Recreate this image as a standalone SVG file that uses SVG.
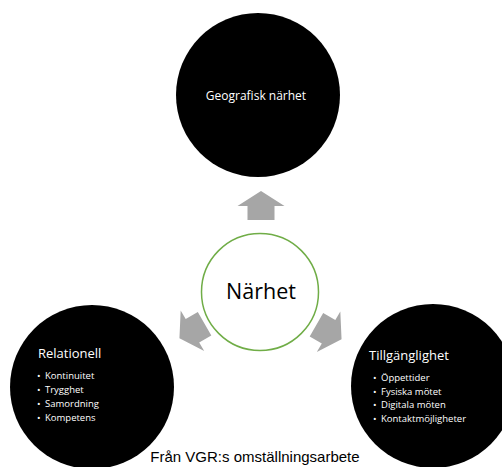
<svg xmlns="http://www.w3.org/2000/svg" width="502" height="467" viewBox="0 0 502 467">
<style>
.blk{fill:#000}
.arr{fill:#a6a6a6}
.t{font-family:"Open Sans","Noto Sans",sans-serif;fill:#fff}
.h{font-size:13px}
.b{font-size:9.5px}
</style>
<defs>
<path id="arrow" d="M0,-14.5 L23.5,0.5 L13.5,0.5 L13.5,14.5 L-13.5,14.5 L-13.5,0.5 L-23.5,0.5 Z"/>
</defs>
<rect width="502" height="467" fill="#fff"/>
<g id="connectors">
<use href="#arrow" class="arr" transform="translate(261,205.5)"/>
<use href="#arrow" class="arr" transform="translate(192,331) rotate(-120)"/>
<use href="#arrow" class="arr" transform="translate(329,332) rotate(120)"/>
</g>
<g id="geografisk">
<circle class="blk" cx="258" cy="95" r="82"/>
<text class="t" x="256" y="100" font-size="12" text-anchor="middle">Geografisk närhet</text>
</g>
<g id="narhet">
<circle cx="260" cy="292" r="58.5" fill="#fff" stroke="#70ad47" stroke-width="1.5"/>
<text x="261" y="299" font-family="'Open Sans','Noto Sans',sans-serif" font-size="21.5" fill="#000" text-anchor="middle">Närhet</text>
</g>
<g id="relationell">
<circle class="blk" cx="92" cy="387" r="82"/>
<text class="t h" x="38" y="358">Relationell</text>
<g class="t b">
<text x="37" y="378.5">•</text><text x="45" y="378.5">Kontinuitet</text>
<text x="37" y="392.5">•</text><text x="45" y="392.5">Trygghet</text>
<text x="37" y="406.5">•</text><text x="45" y="406.5">Samordning</text>
<text x="37" y="420.5">•</text><text x="45" y="420.5">Kompetens</text>
</g>
</g>
<g id="tillganglighet">
<circle class="blk" cx="433" cy="386" r="82"/>
<text class="t h" x="369" y="360">Tillgänglighet</text>
<g class="t b">
<text x="373" y="380.5">•</text><text x="381" y="380.5">Öppettider</text>
<text x="373" y="394.5">•</text><text x="381" y="394.5">Fysiska mötet</text>
<text x="373" y="408">•</text><text x="381" y="408">Digitala möten</text>
<text x="373" y="421.5">•</text><text x="381" y="421.5">Kontaktmöjligheter</text>
</g>
</g>
<text x="255" y="462" font-family="'Liberation Sans',Arial,sans-serif" font-size="15" fill="#000" text-anchor="middle">Från VGR:s omställningsarbete</text>
</svg>
